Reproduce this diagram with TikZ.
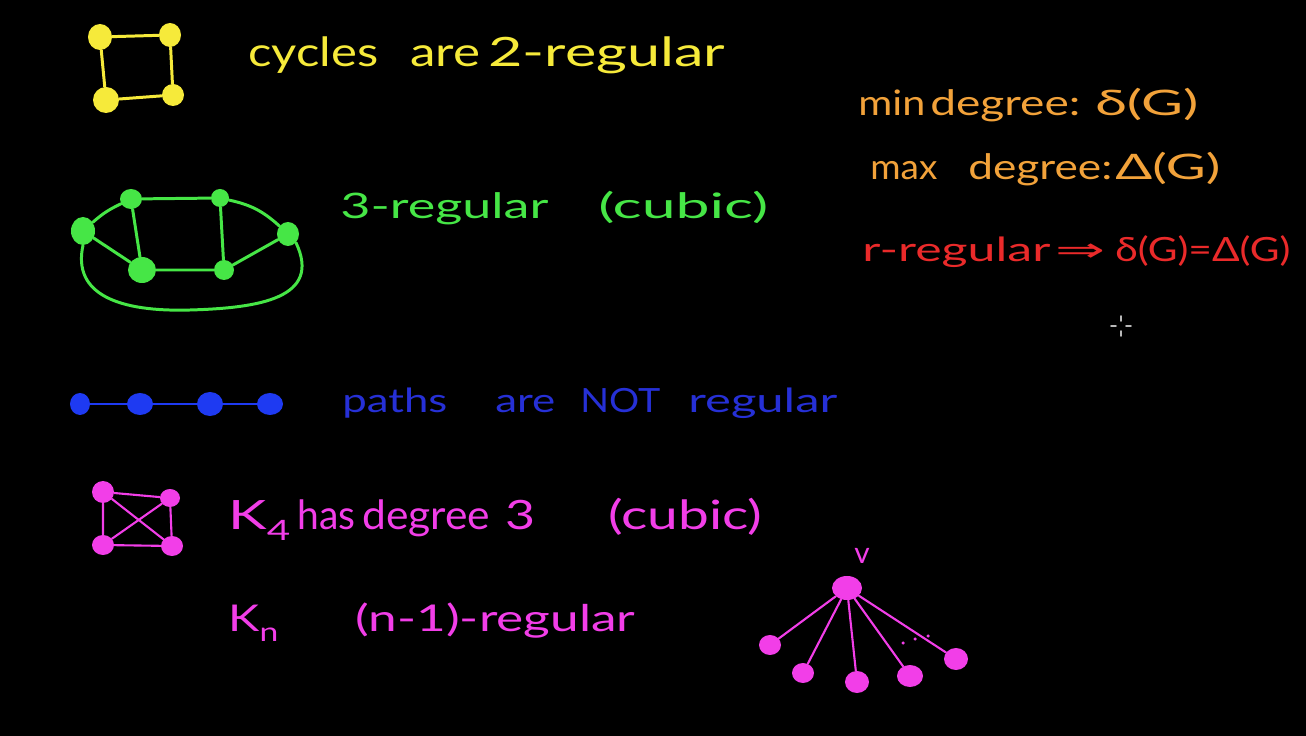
\documentclass[tikz,border=0pt]{standalone}
\usepackage{graphicx}
\usepackage{fontspec}
\setmainfont{Lato}
\newfontfamily\dejavu{DejaVu Sans}
\usetikzlibrary{shapes.geometric}
\newlength\px \setlength\px{0.02cm}
\newcommand\hwword[3]{\rlap{\hspace*{#1\px}\resizebox{#2\px}{\height}{#3}}}
\newcommand\hwend[1]{\hspace*{#1\px}}
\definecolor{cyel}{HTML}{F6EA3A}
\definecolor{cgrn}{HTML}{46E646}
\definecolor{cblu}{HTML}{1E3AF2}
\definecolor{cblt}{HTML}{2630D6}
\definecolor{corg}{HTML}{F2A23A}
\definecolor{cred}{HTML}{EA2A2A}
\definecolor{cmag}{HTML}{F23EE8}
\begin{document}
\begin{tikzpicture}[x=0.02cm,y=-0.02cm,line cap=round,line join=round,
  vtx/.style={ellipse,fill=#1,inner sep=0pt},
  sz/.style 2 args={minimum width=#1\px,minimum height=#2\px},
  edge/.style={draw=#1,line width=1.7pt},
  thinedge/.style={draw=#1,line width=1.2pt},
  hw/.style={anchor=base west,inner sep=0pt,text=#1}]
\fill[black] (0,0) rectangle (1306,736);
\useasboundingbox (0,0) rectangle (1306,736);

% ---------- yellow cycle ----------
\node[vtx=cyel,sz={24}{26}] (y1) at (100,37) {};
\node[vtx=cyel,sz={22}{24}] (y2) at (170,35) {};
\node[vtx=cyel,sz={26}{26}] (y3) at (106,100) {};
\node[vtx=cyel,sz={22}{22}] (y4) at (173,95) {};
\draw[edge=cyel] (y1)--(y2) (y1)--(y3) (y2)--(y4) (y3)--(y4);
\node[hw=cyel,font=\fontsize{23}{26}\selectfont] (t1) at (248,67)
  {\hwword{0}{130}{cycles}\hwword{162}{70}{are}\hwword{240}{237}{2-regular}\hwend{477}};

% ---------- green cubic graph ----------
\node[vtx=cgrn,sz={24}{28}] (g1) at (83,231) {};
\node[vtx=cgrn,sz={22}{20}] (g2) at (131,199) {};
\node[vtx=cgrn,sz={18}{18}] (g3) at (220,198) {};
\node[vtx=cgrn,sz={22}{24}] (g4) at (288,234) {};
\node[vtx=cgrn,sz={28}{26}] (g5) at (142,270) {};
\node[vtx=cgrn,sz={20}{20}] (g6) at (224,270) {};
\draw[edge=cgrn] (g1) to[bend left=8] (g2);
\draw[edge=cgrn] (g2)--(g3);
\draw[edge=cgrn] (g3) to[bend left=15] (g4);
\draw[edge=cgrn] (g1)--(g5)--(g6)--(g4);
\draw[edge=cgrn] (g2)--(g5) (g3)--(g6);
\draw[edge=cgrn] (g1.south) .. controls (72,295) and (120,312) .. (190,310)
  .. controls (260,308) and (322,298) .. (g4.south east);
\node[hw=cgrn,font=\fontsize{20}{24}\selectfont] (t2) at (340,219)
  {\hwword{0}{208}{3-regular}\hwword{258}{170}{(cubic)}\hwend{428}};

% ---------- blue path ----------
\node[vtx=cblu,sz={20}{22}] (b1) at (80,404) {};
\node[vtx=cblu,sz={26}{22}] (b2) at (140,404) {};
\node[vtx=cblu,sz={26}{24}] (b3) at (210,404) {};
\node[vtx=cblu,sz={26}{22}] (b4) at (270,404) {};
\draw[edge=cblu] (b1)--(b2)--(b3)--(b4);
\node[hw=cblt,font=\fontsize{19}{22}\selectfont] (t3) at (342,413)
  {\hwword{0}{105}{paths}\hwword{153}{60}{are}\hwword{238}{80}{NOT}\hwword{346}{149}{regular}\hwend{495}};

% ---------- orange / red definitions ----------
\node[hw=corg,font=\fontsize{20}{24}\selectfont] (t4) at (858,116)
  {\hwword{0}{67}{min}\hwword{72}{150}{degree:}\hwword{237}{103}{δ(G)}\hwend{340}};
\node[hw=corg,font=\fontsize{20}{24}\selectfont] (t5) at (870,180)
  {\hwword{0}{67}{max}\hwword{98}{144}{degree:}\hwword{245}{105}{Δ(G)}\hwend{350}};
\node[hw=cred,font=\fontsize{19}{22}\selectfont] (t6) at (862,262)
  {\hwword{0}{188}{r-regular}\hwword{193}{50}{{\dejavu ⇒}}\hwword{253}{175}{δ(G)=Δ(G)}\hwend{428}};

% ---------- magenta K4 ----------
\node[vtx=cmag,sz={22}{22}] (m1) at (103,492) {};
\node[vtx=cmag,sz={20}{18}] (m2) at (170,498) {};
\node[vtx=cmag,sz={22}{20}] (m3) at (103,545) {};
\node[vtx=cmag,sz={22}{20}] (m4) at (172,546) {};
\draw[thinedge=cmag] (m1)--(m2) (m1)--(m3) (m2)--(m4) (m3)--(m4) (m1)--(m4) (m2)--(m3);
\node[hw=cmag,font=\fontsize{23}{26}\selectfont] (t7) at (228,530)
  {\hwword{0}{62}{K\raisebox{-0.25em}{\fontsize{16}{18}\selectfont 4}}\hwword{69}{58}{has}\hwword{134}{128}{degree}\hwword{277}{30}{3}\hwword{380}{154}{(cubic)}\hwend{534}};
\node[hw=cmag,font=\fontsize{21}{24}\selectfont] (t8) at (228,632)
  {\hwword{0}{50}{K\raisebox{-0.25em}{\fontsize{15}{18}\selectfont n}}\hwword{127}{280}{(n-1)-regular}\hwend{407}};

% ---------- magenta star ----------
\node[vtx=cmag,sz={30}{24}] (s0) at (847,588) {};
\node[hw=cmag,font=\fontsize{17}{20}\selectfont,anchor=base] (sv) at (862,564) {v};
\node[vtx=cmag,sz={22}{20}] (s1) at (770,645) {};
\node[vtx=cmag,sz={22}{20}] (s2) at (803,673) {};
\node[vtx=cmag,sz={24}{22}] (s3) at (857,682) {};
\node[vtx=cmag,sz={26}{22}] (s4) at (910,676) {};
\node[vtx=cmag,sz={24}{22}] (s5) at (956,659) {};
\draw[thinedge=cmag] (s0)--(s1) (s0)--(s2) (s0)--(s3) (s0)--(s4) (s0)--(s5);
\fill[cmag] (903,643) circle (0.035cm) (915,639) circle (0.035cm) (928,636) circle (0.035cm);

% ---------- cursor ----------
\draw[gray!55,line width=0.9pt] (1121,316)--(1121,321) (1121,331)--(1121,336)
  (1111,326)--(1116,326) (1126,326)--(1131,326);
\end{tikzpicture}
\end{document}
